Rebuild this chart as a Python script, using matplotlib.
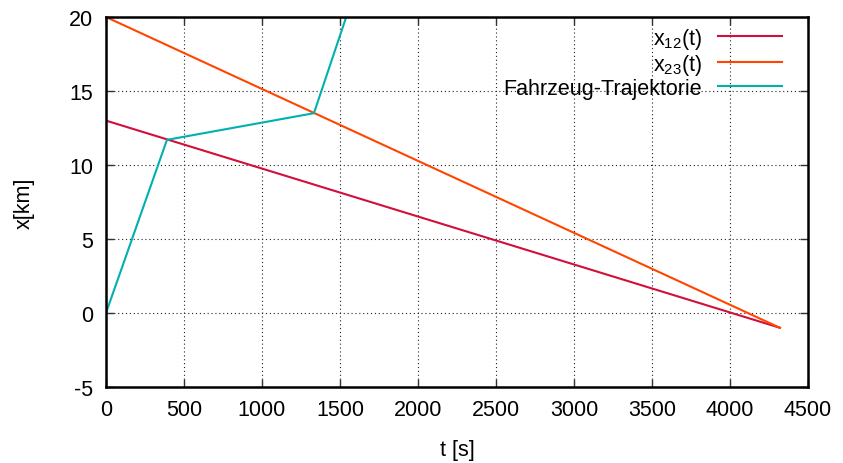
import matplotlib.pyplot as plt

plt.rcParams['font.family'] = ['Liberation Sans', 'DejaVu Sans']
plt.rcParams['axes.unicode_minus'] = False
plt.rcParams['mathtext.default'] = 'regular'

# line endpoints (t in s, x in km)
t12 = [0, 4320]
x12 = [13, -1]
t23 = [0, 4320]
x23 = [20, -1]
# vehicle trajectory
t_traj = [0, 391, 1333, 1540, 1600]
x_traj = [0, 11.7, 13.5, 20, 21.7]

fig = plt.figure(figsize=(8.43, 4.64), dpi=100)
ax = fig.add_axes([0.1257, 0.1638, 0.8328, 0.7974])

ax.plot(t12, x12, color='#d0103a', lw=1.5, label=r'x$_{12}$(t)')
ax.plot(t23, x23, color='#ff4500', lw=1.5, label=r'x$_{23}$(t)')
ax.plot(t_traj, x_traj, color='#00b0b0', lw=1.5, label='Fahrzeug-Trajektorie')

ax.set_xlim(0, 4500)
ax.set_ylim(-5, 20)
ax.set_xticks(range(0, 4501, 500))
ax.set_yticks(range(-5, 21, 5))
ax.grid(True, color='#222222', linestyle=(0, (1, 2.5)), lw=0.8)
ax.tick_params(direction='in', length=6, width=1, top=True, right=True,
               labelsize=15.5, color='#333333')
ax.tick_params(axis='x', pad=9)
ax.tick_params(axis='y', pad=9)
for s in ax.spines.values():
    s.set_linewidth(1.8)

ax.set_xlabel('t [s]', fontsize=15.5, labelpad=13)
ax.set_ylabel('x[km]', fontsize=15.5, labelpad=25)

leg = ax.legend(loc='upper right', bbox_to_anchor=(0.975, 1.0),
                frameon=False, markerfirst=False,
                fontsize=15.5, handlelength=2.95, labelspacing=0.05,
                borderaxespad=0.0, handletextpad=0.75)
for t in leg.get_texts():
    t.set_ha('right')

fig.savefig('out.png', dpi=100)
